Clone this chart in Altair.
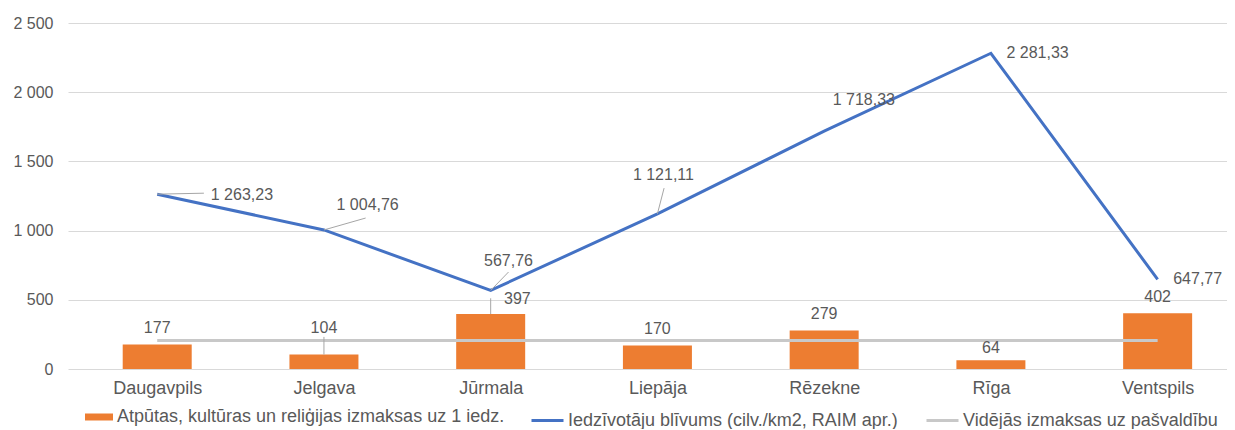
import altair as alt
import pandas as pd

# ---- data ----
categories = ["Daugavpils", "Jelgava", "Jūrmala", "Liepāja", "Rēzekne", "Rīga", "Ventspils"]
costs = [177, 104, 397, 170, 279, 64, 402]
density = [1263.23, 1004.76, 567.76, 1121.11, 1718.33, 2281.33, 647.77]
average = [206, 206, 206, 206, 206, 206, 206]

s_bar = "Atpūtas, kultūras un reliģijas izmaksas uz 1 iedz."
s_line = "Iedzīvotāju blīvums (cilv./km2, RAIM apr.)"
s_avg = "Vidējās izmaksas uz pašvaldību"

y_ticks = [0, 500, 1000, 1500, 2000, 2500]

# ---- label nudges (x in category steps, y in value units) ----
bar_label_dx = [0, 0, 0.16, 0, 0, 0, 0]
bar_label_dy = [120, 193, 109, 120, 119, 89, 119]
line_label_dx = [0.508, 0.262, 0.107, 0.036, 0.238, 0.28, 0.24]
line_label_dy = [-6, 180, 213, 280, 224, 0, 3]
line_leader_dx = [0.28, 0.25, 0.107, 0.04, None, None, None]
line_leader_dy = [7, 86, 133, 186, None, None, None]
bar_leader_dy = [None, 128, 114, None, None, None, None]

ORANGE = "#ED7D31"
BLUE = "#4472C4"
GRAY = "#C8C8C8"
TXT = "#595959"
FONT = "Liberation Sans"

def fmt2(v):
    return f"{v:,.2f}".replace(",", " ").replace(".", ",")

idx = list(range(len(categories)))
df = pd.DataFrame({
    "i": idx,
    "cat": categories,
    "cost": costs,
    "dens": density,
    "avg": average,
    "s_bar": s_bar,
    "s_line": s_line,
    "s_avg": s_avg,
})
df["bl_x"] = [i + d for i, d in zip(idx, bar_label_dx)]
df["bl_y"] = [v + d for v, d in zip(costs, bar_label_dy)]
df["bl_t"] = [str(v) for v in costs]
df["ll_x"] = [i + d for i, d in zip(idx, line_label_dx)]
df["ll_y"] = [v + d for v, d in zip(density, line_label_dy)]
df["ll_t"] = [fmt2(v) for v in density]

lead_rows = []
for i in idx:
    if line_leader_dx[i] is not None:
        lead_rows.append({"x": i, "y": density[i], "x2": i + line_leader_dx[i], "y2": density[i] + line_leader_dy[i]})
    if bar_leader_dy[i] is not None:
        lead_rows.append({"x": i, "y": costs[i], "x2": i, "y2": costs[i] + bar_leader_dy[i]})
lead = pd.DataFrame(lead_rows)

W, H = 1159, 346
xs = alt.Scale(domain=[-0.505, 6.386], nice=False, zero=False)
ys = alt.Scale(domain=[0, 2500], nice=False)

label_expr = "[" + ",".join(f"'{c}'" for c in categories) + "][datum.value]"

x_axis = alt.Axis(values=idx, labelExpr=label_expr, grid=False, ticks=False, domain=False,
                  labelFontSize=18, labelColor=TXT, labelPadding=10, labelFont=FONT, title=None)
y_axis = alt.Axis(values=y_ticks, labelExpr="replace(format(datum.value, ',d'), ',', ' ')",
                  grid=True, gridColor="#D9D9D9", gridWidth=1, ticks=False, domain=False,
                  labelFontSize=16, labelColor=TXT, labelPadding=15, labelFont=FONT, title=None)

LEG_Y = 380

base = alt.Chart(df)

bars = base.mark_bar(size=69, orient="vertical").encode(
    x=alt.X("i:Q", scale=xs, axis=x_axis),
    y=alt.Y("cost:Q", scale=ys, axis=y_axis),
    y2=alt.datum(0),
    fill=alt.Fill("s_bar:N", scale=alt.Scale(domain=[s_bar], range=[ORANGE]),
                  legend=alt.Legend(title=None, orient="none", legendX=17, legendY=LEG_Y,
                                    symbolType="M-1,-0.25H1V0.25H-1Z", symbolSize=784,
                                    symbolStrokeWidth=0, labelFontSize=18, labelColor=TXT,
                                    labelFont=FONT, labelOffset=4, labelLimit=600)),
)

avg_line = base.mark_line(strokeWidth=3).encode(
    x=alt.X("i:Q", scale=xs, axis=x_axis),
    y=alt.Y("avg:Q", scale=ys, axis=y_axis),
    color=alt.Color("s_avg:N", scale=alt.Scale(domain=[s_avg], range=[GRAY]),
                    legend=alt.Legend(title=None, orient="none", legendX=857, legendY=LEG_Y,
                                      symbolType="stroke", symbolSize=1024, symbolStrokeWidth=3,
                                      labelFontSize=18, labelColor=TXT, labelFont=FONT,
                                      labelOffset=3, labelLimit=600)),
)

dens_line = base.mark_line(strokeWidth=3).encode(
    x=alt.X("i:Q", scale=xs, axis=x_axis),
    y=alt.Y("dens:Q", scale=ys, axis=y_axis),
    stroke=alt.Stroke("s_line:N", scale=alt.Scale(domain=[s_line], range=[BLUE]),
                      legend=alt.Legend(title=None, orient="none", legendX=462, legendY=LEG_Y,
                                        symbolType="stroke", symbolSize=1024, symbolStrokeWidth=3,
                                        labelFontSize=18, labelColor=TXT, labelFont=FONT,
                                        labelOffset=3, labelLimit=600)),
)

leaders = alt.Chart(lead).mark_rule(color="#A6A6A6", strokeWidth=1).encode(
    x=alt.X("x:Q", scale=xs, axis=x_axis),
    y=alt.Y("y:Q", scale=ys, axis=y_axis),
    x2="x2:Q",
    y2="y2:Q",
)

bar_labels = base.mark_text(fontSize=16, color=TXT, font=FONT, align="center", baseline="middle").encode(
    x=alt.X("bl_x:Q", scale=xs, axis=x_axis),
    y=alt.Y("bl_y:Q", scale=ys, axis=y_axis),
    text="bl_t:N",
)

line_labels = base.mark_text(fontSize=16, color=TXT, font=FONT, align="center", baseline="middle").encode(
    x=alt.X("ll_x:Q", scale=xs, axis=x_axis),
    y=alt.Y("ll_y:Q", scale=ys, axis=y_axis),
    text="ll_t:N",
)

chart = alt.layer(bars, avg_line, dens_line, leaders, bar_labels, line_labels).properties(
    width=W, height=H,
    autosize=alt.AutoSizeParams(type="none"),
    padding={"left": 60, "top": 15, "right": 0, "bottom": 60},
).resolve_scale(fill="independent", stroke="independent", color="independent").configure(
    font=FONT
).configure_view(
    strokeWidth=0, stroke="transparent"
)

chart.save("out.html", embed_options={"renderer": "svg", "actions": False})
